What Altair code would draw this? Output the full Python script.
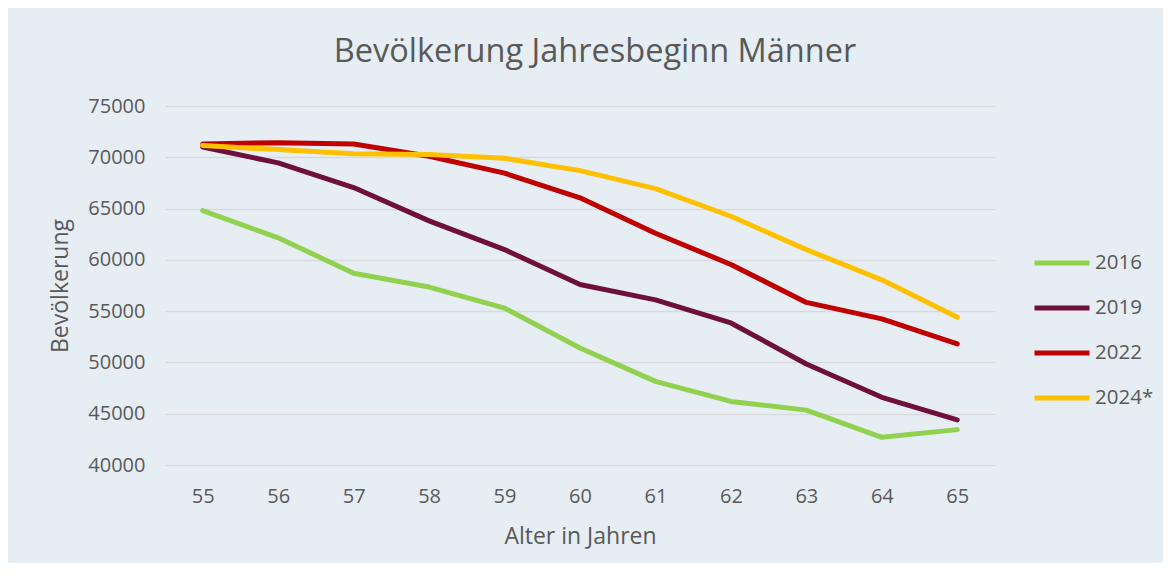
import altair as alt
import pandas as pd

ages = [55, 56, 57, 58, 59, 60, 61, 62, 63, 64, 65]
years = ["2016", "2019", "2022", "2024*"]
v2016 = [64800, 62150, 58700, 57350, 55300, 51400, 48150, 46200, 45350, 42700, 43450]
v2019 = [71000, 69450, 67050, 63800, 61000, 57600, 56100, 53850, 49850, 46600, 44400]
v2022 = [71300, 71420, 71300, 70100, 68450, 66050, 62600, 59550, 55850, 54250, 51800]
v2024 = [71150, 70750, 70350, 70280, 69900, 68700, 66950, 64250, 61000, 58050, 54400]
colors = ["#92D050", "#6E0F3C", "#C00000", "#FFC000"]

rows = []
for yr, vals in zip(years, [v2016, v2019, v2022, v2024]):
    for a, v in zip(ages, vals):
        rows.append({"Alter": a, "Bevölkerung": v, "Jahr": yr})
df = pd.DataFrame(rows)

FONT = "Open Sans"
GREY = "#595959"

lines = alt.Chart(df).mark_line(strokeWidth=5, strokeCap="round", strokeJoin="round").encode(
    x=alt.X("Alter:O", scale=alt.Scale(type="point", padding=0.5),
            axis=alt.Axis(title="Alter in Jahren", labelAngle=0, ticks=False, domain=False,
                          labelPadding=21, titlePadding=19, labelFontSize=20, titleFontSize=23,
                          labelColor=GREY, titleColor=GREY, labelFont=FONT, titleFont=FONT,
                          titleFontWeight="normal", grid=False)),
    y=alt.Y("Bevölkerung:Q", scale=alt.Scale(domain=[40000, 75000], nice=False),
            axis=alt.Axis(title="Bevölkerung", values=list(range(40000, 75001, 5000)), format="d",
                          ticks=False, domain=False, gridColor="#D9D9D9", gridWidth=1.5,
                          labelPadding=20, titlePadding=15, labelFontSize=20, titleFontSize=23,
                          labelColor=GREY, titleColor=GREY, labelFont=FONT, titleFont=FONT,
                          titleFontWeight="normal")),
    color=alt.Color("Jahr:N", scale=alt.Scale(domain=years, range=colors),
                    legend=alt.Legend(title=None, orient="none", legendX=867, legendY=127,
                                      symbolType="stroke", symbolSize=3025, symbolStrokeWidth=5,
                                      labelFontSize=20.5, labelColor=GREY, labelFont=FONT,
                                      rowPadding=4, labelOffset=3)),
)

chart = lines.properties(
    width=830, height=359,
    title=alt.TitleParams("Bevölkerung Jahresbeginn Männer", fontSize=32.5, font=FONT,
                          fontWeight="normal", color=GREY, anchor="middle", frame="group",
                          dx=15, offset=28),
    autosize=alt.AutoSizeParams(type="none"),
    padding={"left": 157, "top": 98, "right": 168, "bottom": 98},
    background="#E6EEF4",
).configure_view(stroke=None)

chart.save("out.html", embed_options={"renderer": "svg", "actions": False})
